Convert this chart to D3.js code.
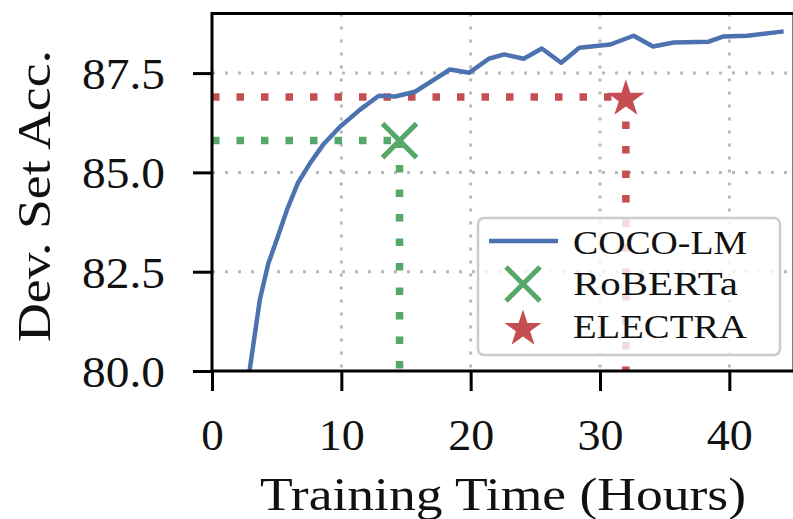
<!DOCTYPE html>
<html>
<head>
<meta charset="utf-8">
<script src="https://cdn.jsdelivr.net/npm/d3@7"></script>
<style>
  html, body { margin: 0; padding: 0; background: #fff; }
  svg { display: block; }
  text { font-family: "Liberation Serif", "Times New Roman", serif; fill: #111; }
</style>
</head>
<body>
<svg id="chart" width="793" height="519"></svg>
<script>
// ---- data ----
const cocoHours = [2.9, 3.7, 4.35, 5.0, 5.8, 6.65, 7.6, 8.6, 9.9, 11.45, 12.9, 14.15, 15.7, 17.2, 18.4, 19.9, 21.4, 22.6, 24.1, 25.5, 27.0, 28.4, 30.8, 32.6, 34.1, 35.7, 38.4, 39.5, 41.4, 44.2];
const cocoAcc   = [80.0, 81.8, 82.7, 83.3, 84.06, 84.74, 85.24, 85.7, 86.15, 86.58, 86.93, 86.91, 87.03, 87.34, 87.59, 87.51, 87.86, 87.97, 87.86, 88.12, 87.76, 88.14, 88.22, 88.44, 88.17, 88.27, 88.29, 88.42, 88.44, 88.55];
const robertaPoint = [14.5, 85.8];
const electraPoint = [32.0, 86.9];
const xTicks = [0, 10, 20, 30, 40];
const yTicks = [80.0, 82.5, 85.0, 87.5];
const legendLabels = ["COCO-LM", "RoBERTa", "ELECTRA"];
const xLabel = "Training Time (Hours)";
const yLabel = "Dev. Set Acc.";

const colors = { coco: "#4c72b0", roberta: "#55a868", electra: "#c44e52" };

(function () {
const svg = d3.select("#chart");
const pL = 212, pR = 794, pT = 13.5, pB = 371;
const x = d3.scaleLinear().domain([0, 45]).range([pL, pR]);
const y = d3.scaleLinear().domain([80, 89]).range([pB, pT]);

svg.append("defs").append("clipPath").attr("id", "plotclip")
  .append("rect").attr("x", pL).attr("y", pT).attr("width", pR - pL).attr("height", pB - pT);

// grid
const grid = svg.append("g").attr("clip-path", "url(#plotclip)");
grid.selectAll(".gx").data(xTicks.filter(d => d > 0)).enter().append("line")
  .attr("x1", d => x(d)).attr("x2", d => x(d)).attr("y1", pT).attr("y2", pB)
  .attr("stroke", "#b8b8b8").attr("stroke-width", 3).attr("stroke-dasharray", "3 10");
grid.selectAll(".gy").data(yTicks.filter(d => d > 80)).enter().append("line")
  .attr("y1", d => y(d)).attr("y2", d => y(d)).attr("x1", pL).attr("x2", pR)
  .attr("stroke", "#b8b8b8").attr("stroke-width", 3).attr("stroke-dasharray", "3 10");

const plot = svg.append("g").attr("clip-path", "url(#plotclip)");

// reference dotted lines
function refLines(pt, color) {
  plot.append("line").attr("x1", x(0)).attr("x2", x(pt[0])).attr("y1", y(pt[1])).attr("y2", y(pt[1]))
    .attr("stroke", color).attr("stroke-width", 7.5).attr("stroke-dasharray", "7.5 17");
  plot.append("line").attr("x1", x(pt[0])).attr("x2", x(pt[0])).attr("y1", y(pt[1])).attr("y2", y(80))
    .attr("stroke", color).attr("stroke-width", 7.5).attr("stroke-dasharray", "7.5 17");
}
refLines(robertaPoint, colors.roberta);
refLines(electraPoint, colors.electra);

// COCO-LM line
const lineData = cocoHours.map((h, i) => [h, cocoAcc[i]]);
plot.append("path").datum(lineData)
  .attr("fill", "none").attr("stroke", colors.coco).attr("stroke-width", 4.5)
  .attr("stroke-linejoin", "round")
  .attr("d", d3.line().x(d => x(d[0])).y(d => y(d[1])));

// markers
function xMarker(g, cx, cy, r) {
  g.append("path")
    .attr("d", `M${cx - r},${cy - r}L${cx + r},${cy + r}M${cx - r},${cy + r}L${cx + r},${cy - r}`)
    .attr("stroke", colors.roberta).attr("stroke-width", 5).attr("fill", "none");
}
const starSym = d3.symbol().type(d3.symbolStar).size(430);
xMarker(svg, x(robertaPoint[0]), y(robertaPoint[1]), 17);
svg.append("path").attr("d", starSym())
  .attr("transform", `translate(${x(electraPoint[0])},${y(electraPoint[1]) + 2})`)
  .attr("fill", colors.electra);

// axes
const xAxis = svg.append("g").attr("transform", `translate(0,${pB})`)
  .call(d3.axisBottom(x).tickValues(xTicks).tickFormat(d3.format("d")).tickSize(20).tickSizeOuter(0));
xAxis.select(".domain").remove();
xAxis.selectAll(".tick line").attr("stroke", "#000").attr("stroke-width", 3);
xAxis.selectAll(".tick text").attr("y", 79).attr("dy", null)
  .style("font-size", "45px").style("font-family", "Liberation Serif").attr("fill", "#111")
  .each(function (d) { if (d >= 10) d3.select(this).attr("textLength", 46).attr("lengthAdjust", "spacingAndGlyphs"); });

const yAxis = svg.append("g").attr("transform", `translate(${pL},0)`)
  .call(d3.axisLeft(y).tickValues(yTicks).tickFormat(d3.format(".1f")).tickSize(19).tickPadding(28).tickSizeOuter(0));
yAxis.select(".domain").remove();
yAxis.selectAll(".tick line").attr("stroke", "#000").attr("stroke-width", 3);
yAxis.selectAll(".tick text").attr("dy", "0.34em")
  .attr("textLength", 83).attr("lengthAdjust", "spacingAndGlyphs")
  .style("font-size", "45px").style("font-family", "Liberation Serif").attr("fill", "#111");

// spines
svg.append("line").attr("x1", pL).attr("x2", pL).attr("y1", pT - 1.5).attr("y2", pB + 1.5).attr("stroke", "#000").attr("stroke-width", 3);
svg.append("line").attr("x1", pL).attr("x2", pR).attr("y1", pB).attr("y2", pB).attr("stroke", "#000").attr("stroke-width", 3);
svg.append("line").attr("x1", pL).attr("x2", pR).attr("y1", pT).attr("y2", pT).attr("stroke", "#000").attr("stroke-width", 3);
svg.append("line").attr("x1", pR).attr("x2", pR).attr("y1", pT).attr("y2", pB).attr("stroke", "#000").attr("stroke-width", 3);

// axis labels
svg.append("text").attr("x", 503).attr("y", 510).attr("text-anchor", "middle")
  .attr("textLength", 486).attr("lengthAdjust", "spacingAndGlyphs")
  .style("font-size", "47px").text(xLabel);
svg.append("text").attr("transform", "translate(50,196) rotate(-90)").attr("text-anchor", "middle")
  .attr("textLength", 292).attr("lengthAdjust", "spacingAndGlyphs")
  .style("font-size", "47px").text(yLabel);

// legend
const lg = svg.append("g");
lg.append("rect").attr("x", 478).attr("y", 218).attr("width", 302).attr("height", 137).attr("rx", 6)
  .attr("fill", "#fff").attr("fill-opacity", 0.8).attr("stroke", "#cccccc").attr("stroke-width", 2.5);
lg.append("line").attr("x1", 489).attr("x2", 558).attr("y1", 241).attr("y2", 241)
  .attr("stroke", colors.coco).attr("stroke-width", 4.5);
xMarker(lg, 523, 284, 17);
lg.append("path").attr("d", starSym()).attr("transform", "translate(523,329)").attr("fill", colors.electra);
const lgBase = [254, 295, 338];
const lgLen = [174, 165, 174];
lg.selectAll(".lt").data(legendLabels).enter().append("text")
  .attr("x", 573).attr("y", (d, i) => lgBase[i])
  .attr("textLength", (d, i) => lgLen[i]).attr("lengthAdjust", "spacingAndGlyphs")
  .style("font-size", "33px").text(d => d);
})();
</script>
</body>
</html>
